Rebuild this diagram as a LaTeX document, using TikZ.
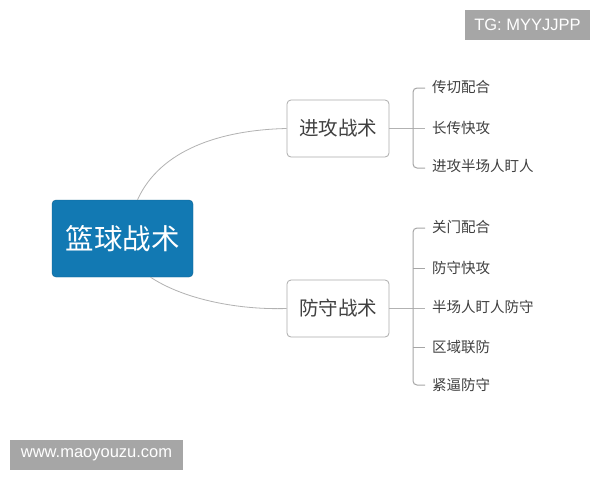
\documentclass[tikz,border=0pt]{standalone}
\usepackage{fontspec}
\setmainfont{Noto Sans CJK SC}
\newfontfamily\latinsans{Liberation Sans}
\begin{document}
\begin{tikzpicture}[x=1pt,y=-1pt,
  rootbox/.style={draw=rootblue!80!black, fill=rootblue, rounded corners=4pt, minimum width=141pt, minimum height=77pt, text=white, font=\fontsize{28.5}{32}\selectfont, inner sep=0pt},
  branchbox/.style={draw=gray!65, line width=0.8pt, fill=white, rounded corners=4pt, minimum width=102pt, minimum height=57pt, text=black!75, font=\fontsize{19.5}{22}\selectfont, inner sep=0pt},
  leaf/.style={anchor=west, text=black!75, font=\fontsize{14.5}{17}\selectfont, inner sep=0pt},
  link/.style={draw=gray!60, line width=0.8pt},
  brace/.style={draw=gray!70, line width=1pt, rounded corners=4pt},
  wm/.style={fill=gray!70, text=white, font=\latinsans\fontsize{16.5}{18}\selectfont, inner sep=0pt}
]
\definecolor{rootblue}{HTML}{1279B3}
\useasboundingbox (0,0) rectangle (600,480);
\fill[white] (0,0) rectangle (600,480);

\node[rootbox] (root) at (122.5,238.5) {篮球战术};
\node[branchbox] (att) at (338,128.5) {进攻战术};
\node[branchbox] (def) at (338,308.5) {防守战术};

\draw[link] (root.north) ++(15,0) coordinate (r1) .. controls (160,150) and (220,130) .. (att.west);
\draw[link] (root.south) ++(28,0) coordinate (r2) .. controls (185,300) and (240,310) .. (def.west);

% attack bracket
\draw[link] (att.east) -- (425,128.5);
\draw[brace] (425,88) -- (413,88) -- (413,168) -- (425,168);
\node[leaf] (a1) at (432,87) {传切配合};
\node[leaf] (a2) at (432,128) {长传快攻};
\node[leaf] (a3) at (432,166) {进攻半场人盯人};

% defense bracket
\draw[link] (def.east) -- (425,308.5);
\draw[brace] (425,228) -- (413,228) -- (413,385) -- (425,385);
\draw[brace] (413,268) -- (425,268);
\draw[brace] (413,347) -- (425,347);
\node[leaf] (d1) at (432,227) {关门配合};
\node[leaf] (d2) at (432,268) {防守快攻};
\node[leaf] (d3) at (432,307) {半场人盯人防守};
\node[leaf] (d4) at (432,347) {区域联防};
\node[leaf] (d5) at (432,385) {紧逼防守};

% watermarks
\node[wm, minimum width=125pt, minimum height=30pt] (tg) at (527.5,25) {TG: MYYJJPP};
\node[wm, minimum width=173pt, minimum height=30pt] (www) at (96.5,455) {www.maoyouzu.com};
\end{tikzpicture}
\end{document}
